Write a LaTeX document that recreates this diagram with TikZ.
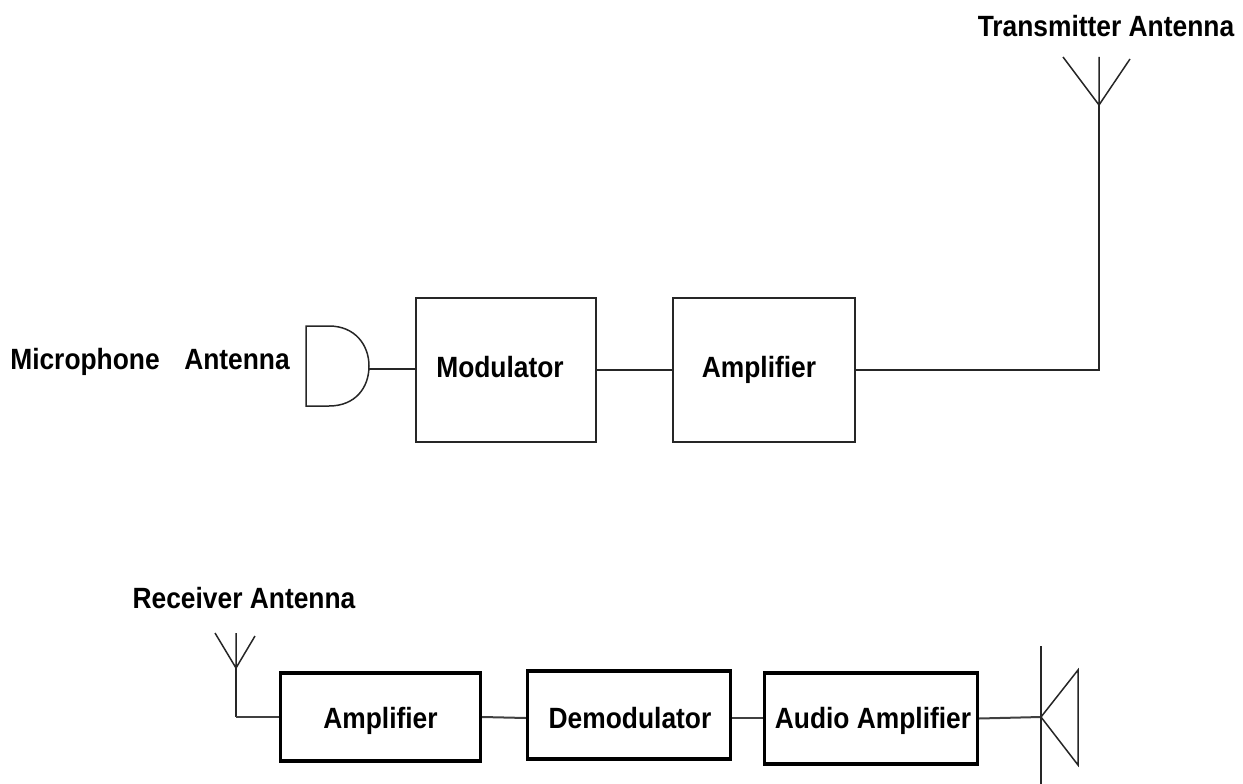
\documentclass[tikz,border=0pt]{standalone}
\usepackage{fontspec}
\setmainfont[FakeStretch=0.9]{Liberation Sans}
\newcommand{\boxtext}[2]{\raisebox{#1}[0pt][0pt]{#2}}
\tikzset{
  x=1pt,y=-1pt,
  thinbox/.style={draw=black!85,line width=1.6pt,inner sep=0pt,font=\fontsize{29.3}{32}\bfseries},
  thickbox/.style={draw=black,line width=3.2pt,inner sep=0pt,font=\fontsize{29.3}{32}\bfseries},
  lab/.style={inner sep=0pt,anchor=base,font=\fontsize{29.3}{32}\bfseries},
  wire/.style={draw=black!85,line width=1.6pt},
  wirelow/.style={draw=black!75,line width=2pt},
  symb/.style={draw=black!85,line width=1.5pt},
}
\begin{document}
\begin{tikzpicture}
\useasboundingbox (0,0) rectangle (1243,784);
% labels
\node[lab] (txl) at (1106,37) {Transmitter Antenna};
\node[lab] (micl) at (85,369) {Microphone};
\node[lab] (antl) at (237,369) {Antenna};
\node[lab] (rxl) at (244,608) {Receiver Antenna};
% top row
\node[thinbox,minimum width=180pt,minimum height=144pt] (mod) at (506,370) {\hspace*{-12pt}\boxtext{-7.5pt}{Modulator}};
\node[thinbox,minimum width=182pt,minimum height=144pt] (amp) at (764,370) {\hspace*{-10pt}\boxtext{-7.5pt}{Amplifier}};
% microphone
\coordinate (mictip) at (369,369);
\draw[symb] (329,326) .. controls (355,326) and (369,345) .. (369,366) .. controls (369,388) and (355,406) .. (329,406) -- (306,406) -- (306,326) -- cycle;
\draw[wire] (mictip) -- (mictip -| mod.west);
\draw[wire] (mod.east) -- (amp.west);
% transmitter antenna
\coordinate (txbase) at (1099,105);
\coordinate (txtop) at (1099,57);
\coordinate (txl1) at (1063,57);
\coordinate (txr1) at (1130,59);
\coordinate (txcorner) at (1099,370);
\draw[wire] (amp.east) -- (txcorner) -- (txbase);
\draw[symb] (txtop) -- (txbase) (txl1) -- (txbase) -- (txr1);
% bottom row
\node[thickbox,minimum width=200pt,minimum height=88pt] (lamp) at (380.5,717) {\boxtext{-11pt}{Amplifier}};
\node[thickbox,minimum width=203pt,minimum height=88pt] (dem) at (629,715) {\hspace*{2pt}\boxtext{-13pt}{Demodulator}};
\node[thickbox,minimum width=213pt,minimum height=91pt] (aud) at (871,718.5) {\hspace*{4pt}\boxtext{-9.5pt}{Audio Amplifier}};
% receiver antenna
\coordinate (rxbase) at (236,668);
\coordinate (rxtop) at (236,633);
\coordinate (rxl1) at (215,633);
\coordinate (rxr1) at (255,636);
\coordinate (rxcorner) at (236,717);
\coordinate (lowa) at (0,718);
\draw[symb] (rxtop) -- (rxbase) (rxl1) -- (rxbase) -- (rxr1);
\draw[wire] (rxbase) -- (rxcorner);
\draw[wirelow] (rxcorner) -- (lamp.west);
\draw[wirelow] (lamp.east) -- (lowa -| dem.west);
\draw[wirelow] (lowa -| dem.east) -- (lowa -| aud.west);
% speaker
\coordinate (spk) at (1041,717);
\coordinate (spktop) at (1041,646);
\coordinate (spkbot) at (1041,784);
\coordinate (spka) at (1078,670);
\coordinate (spkb) at (1078,765);
\draw[wirelow] (aud.east) -- (spk);
\draw[symb] (spktop) -- (spkbot);
\draw[symb] (spk) -- (spka) -- (spkb) -- cycle;
\end{tikzpicture}
\end{document}
